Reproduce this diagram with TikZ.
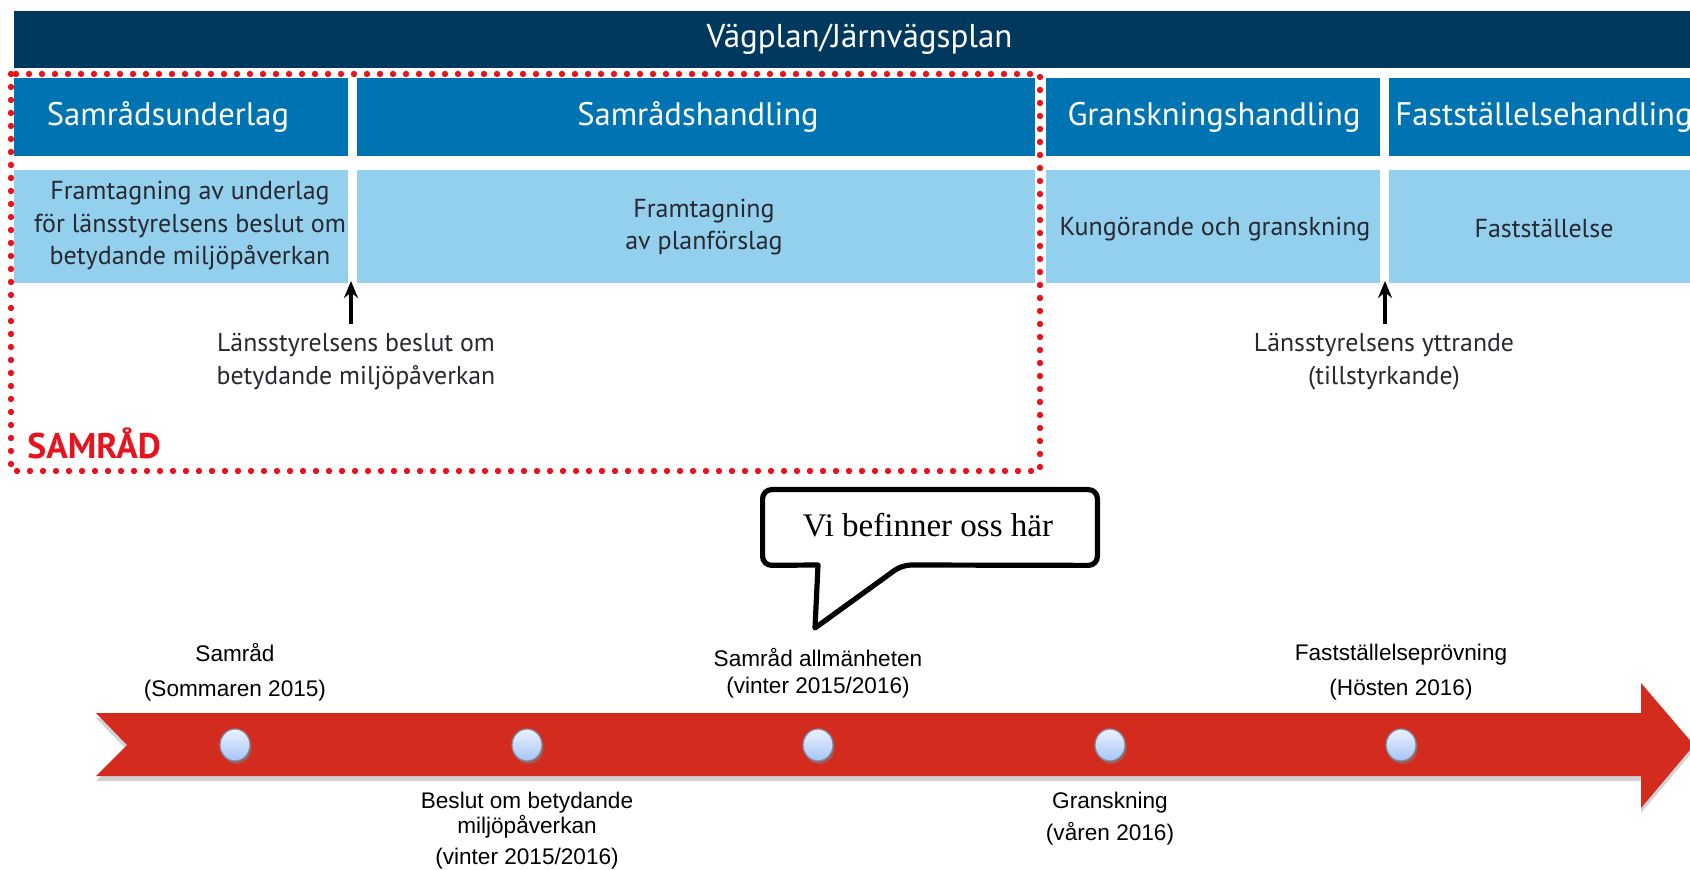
\documentclass[tikz,border=0pt]{standalone}
\usepackage{fontspec}
\setmainfont{PT Sans}
\newfontfamily\arialf{Liberation Sans}
\newfontfamily\seriff{Liberation Serif}
\usetikzlibrary{shapes.geometric,arrows.meta,shadows,calc}
\definecolor{navy}{RGB}{0,57,93}
\definecolor{midblue}{RGB}{0,115,178}
\definecolor{lightblue}{RGB}{147,208,237}
\definecolor{dotred}{RGB}{230,20,30}
\definecolor{bandred}{RGB}{211,43,30}
\definecolor{darktext}{RGB}{40,40,48}
\definecolor{dotborder}{RGB}{125,140,165}
\definecolor{dottop}{RGB}{236,241,255}
\definecolor{dotbot}{RGB}{165,197,245}
\begin{document}
\begin{tikzpicture}[x=0.5pt,y=-0.5pt,
  box/.style={draw=none, inner sep=0, outer sep=0},
  barbox/.style={box, fill=navy, minimum height=28.5pt},
  hdrbox/.style={box, fill=midblue, minimum height=39pt},
  lightbox/.style={box, fill=lightblue, minimum height=56.5pt},
  titletext/.style={text=white, font=\fontsize{16.5}{20}\selectfont, inner sep=0},
  hdrtext/.style={text=white, font=\fontsize{16.3}{19}\selectfont, inner sep=0},
  bodytext/.style={text=darktext, font=\fontsize{13}{16.25}\selectfont, align=center, inner sep=0},
  notetext/.style={text=darktext, font=\fontsize{12.9}{16.5}\selectfont, align=center, inner sep=0},
  samradtext/.style={text=dotred, font=\bfseries\fontsize{17.8}{20}\selectfont, inner sep=0},
  uparrow/.style={-{Stealth[length=8.5pt,width=7pt]}, line width=1.7pt, black},
  dottedframe/.style={draw=dotred, line width=3.2pt, line cap=round, dash pattern=on 0pt off 6.5pt},
  callout/.style={draw=black, line width=2.6pt, fill=white, line join=round},
  callouttext/.style={font=\seriff\fontsize{16.5}{20}\selectfont, inner sep=0},
  band/.style={fill=bandred, drop shadow={shadow xshift=0pt, shadow yshift=-2.5pt, opacity=0.35}},
  tdot/.style={ellipse, minimum width=15pt, minimum height=16pt, inner sep=0, draw=dotborder, line width=0.6pt, top color=dottop, bottom color=dotbot, drop shadow={shadow xshift=0.8pt, shadow yshift=-1.5pt, opacity=0.5}},
  tl/.style={font=\arialf\fontsize{11.3}{13}\selectfont, align=center, inner sep=0, text=black}
]
\useasboundingbox (0,0) rectangle (1690,870);
\fill[white] (0,0) rectangle (1690,870);

% top bar
\node[barbox, minimum width=838pt] (bar) at (852,39.5) {};
\node[titletext] (title) at (859.5,39.5) {Vägplan/Järnvägsplan};

% header boxes
\node[hdrbox, minimum width=167pt] (h1) at (181,117) {};
\node[hdrbox, minimum width=339pt] (h2) at (696,117) {};
\node[hdrbox, minimum width=167pt] (h3) at (1213,117) {};
\node[hdrbox, minimum width=150.5pt] (h4) at (1539.5,117) {};
\node[hdrtext] (h1t) at (168,117) {Samrådsunderlag};
\node[hdrtext] (h2t) at (698,117) {Samrådshandling};
\node[hdrtext] (h3t) at (1214,117) {Granskningshandling};
\node[hdrtext] (h4t) at (1544,117) {Fastställelsehandling};

% light boxes
\node[lightbox, minimum width=167pt] (l1) at (181,226.5) {};
\node[lightbox, minimum width=339pt] (l2) at (696,226.5) {};
\node[lightbox, minimum width=167pt] (l3) at (1213,226.5) {};
\node[lightbox, minimum width=150.5pt] (l4) at (1539.5,226.5) {};
\node[bodytext] (l1t) at (190,226) {Framtagning av underlag\\för länsstyrelsens beslut om\\betydande miljöpåverkan};
\node[bodytext] (l2t) at (704,227) {Framtagning\\av planförslag};
\node[bodytext] (l3t) at (1215,229) {Kungörande och granskning};
\node[bodytext] (l4t) at (1544,229) {Fastställelse};

% arrows and notes
\coordinate (a1b) at (351,324);
\coordinate (a1t) at (351,281);
\coordinate (a2b) at (1385,324);
\coordinate (a2t) at (1385,281);
\draw[uparrow] (a1b) -- (a1t);
\draw[uparrow] (a2b) -- (a2t);
\node[notetext] (n1) at (356,361.5) {Länsstyrelsens beslut om\\betydande miljöpåverkan};
\node[notetext] (n2) at (1384,361.5) {Länsstyrelsens yttrande\\(tillstyrkande)};

% SAMRÅD frame
\draw[dottedframe] (11,74) rectangle (1040,471);
\node[samradtext, anchor=west] (samrad) at (27,443) {SAMRÅD};

% callout
\node[callouttext, minimum width=167pt, minimum height=37.5pt] (cb) at (930,527.5) {};
\coordinate (tailL) at (818,565);
\coordinate (tailR) at (902,565);
\coordinate (tailTip) at (815,628);
\draw[callout, rounded corners=4.5pt] (cb.south west) -- (cb.north west) -- (cb.north east) -- (cb.south east) -- (tailR) [sharp corners] -- (tailTip) -- (tailL) [rounded corners=4.5pt] -- cycle;
\node[callouttext] (cbt) at (928,525) {Vi befinner oss här};

% timeline band
\path[band] (96,713) -- (1641,713) -- (1641,683) -- (1694,745) -- (1641,808) -- (1641,776) -- (96,776) -- (127,745) -- cycle;

% dots
\node[tdot] (d1) at (235,745) {};
\node[tdot] (d2) at (527,745) {};
\node[tdot] (d3) at (818,745) {};
\node[tdot] (d4) at (1110,745) {};
\node[tdot] (d5) at (1401,745) {};

% timeline labels
\node[tl] (t1) at (235,672.5) {Samråd\\[4.5pt](Sommaren 2015)};
\node[tl] (t2) at (527,831) {Beslut om betydande\\[-0.5pt]miljöpåverkan\\[2.5pt](vinter 2015/2016)};
\node[tl] (t3) at (818,673.5) {Samråd allmänheten\\[0.5pt](vinter 2015/2016)};
\node[tl] (t4) at (1110,819) {Granskning\\[3pt](våren 2016)};
\node[tl] (t5) at (1401,672.5) {Fastställelseprövning\\[4.5pt](Hösten 2016)};
\end{tikzpicture}
\end{document}
